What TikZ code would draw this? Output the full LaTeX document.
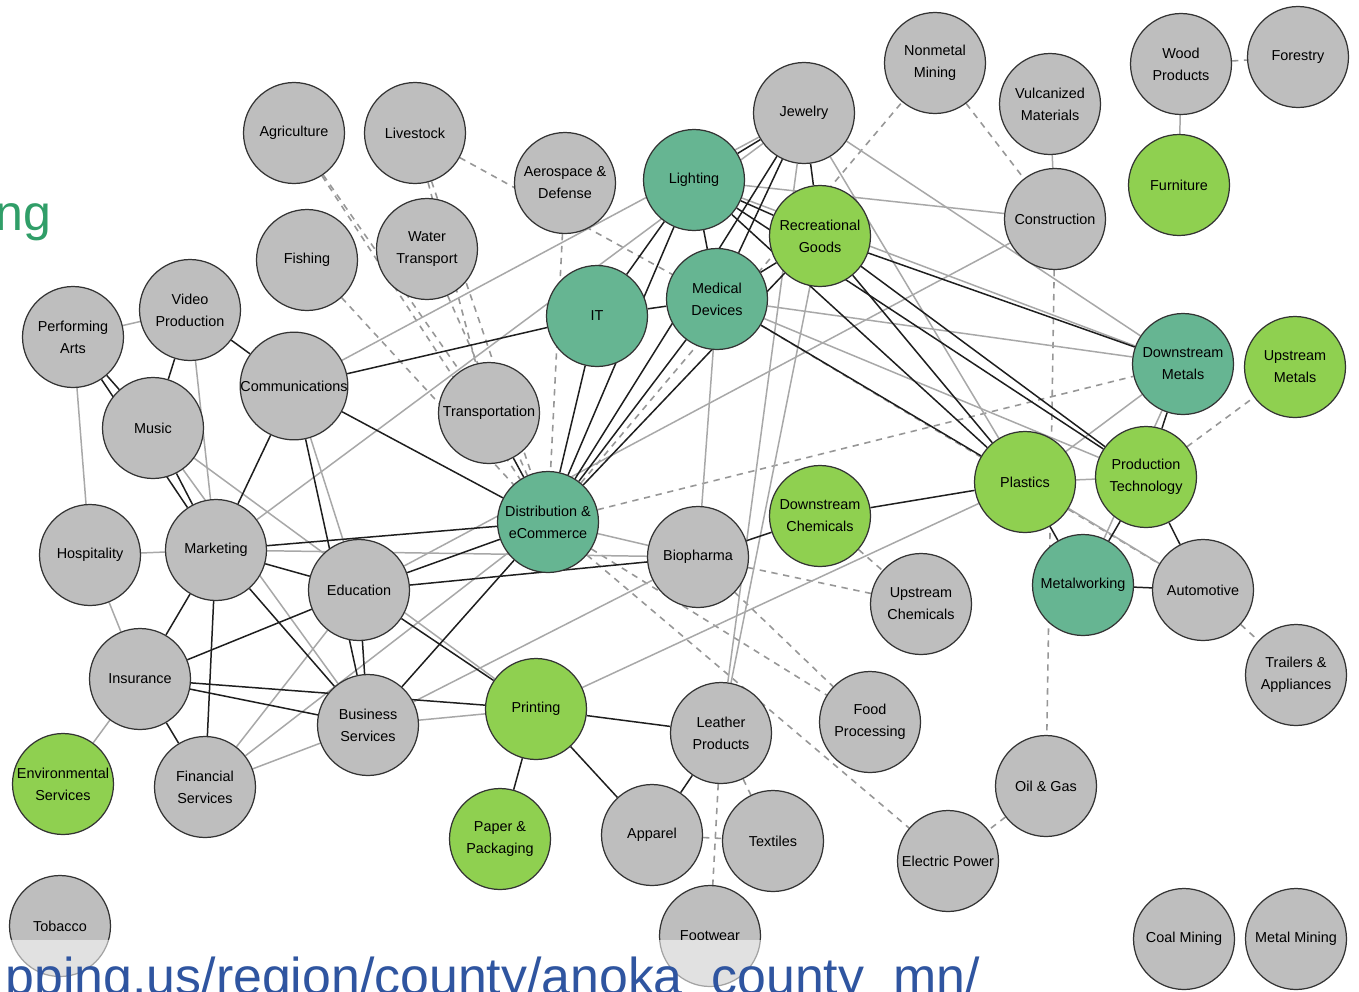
\documentclass[tikz,border=0pt]{standalone}
\usepackage{fontspec}
\setmainfont{Liberation Sans}
\usetikzlibrary{backgrounds}
\definecolor{ngray}{RGB}{190,190,190}
\definecolor{nteal}{RGB}{102,181,146}
\definecolor{ngreen}{RGB}{143,208,80}
\definecolor{eblack}{RGB}{30,30,30}
\definecolor{egray}{RGB}{168,168,168}
\definecolor{urlblue}{RGB}{47,85,160}
\definecolor{nggreen}{RGB}{48,158,104}
\tikzset{
 ind/.style={circle, draw=black!80, line width=0.7pt, minimum size=2.02cm, inner sep=0pt, align=center, font=\fontsize{8.2}{12.5}\selectfont, fill=ngray},
 tealn/.style={ind, fill=nteal},
 greenn/.style={ind, fill=ngreen},
 strong/.style={draw=eblack, line width=0.85pt},
 weak/.style={draw=egray, line width=0.85pt},
 weakdash/.style={draw=egray!90!black, line width=0.9pt, dash pattern=on 3.6pt off 3.2pt}
}
\begin{document}
\begin{tikzpicture}[x=0.02cm,y=-0.02cm]
\useasboundingbox (0,0) rectangle (1359,991);
\clip (0,0) rectangle (1359,991);
% nodes
\node[ind] (agr) at (294,133) {Agriculture};
\node[ind] (liv) at (415,133) {Livestock};
\node[ind] (aero) at (565,183) {Aerospace \&\\Defense};
\node[ind] (fish) at (307,260) {Fishing};
\node[ind] (water) at (427,249) {Water\\Transport};
\node[tealn] (light) at (694,180) {Lighting};
\node[ind] (jew) at (804,113) {Jewelry};
\node[ind] (nonmet) at (935,63) {Nonmetal\\Mining};
\node[ind] (vulc) at (1050,104) {Vulcanized\\Materials};
\node[ind] (wood) at (1181,64) {Wood\\Products};
\node[ind] (forest) at (1298,57) {Forestry};
\node[greenn] (furn) at (1179,185) {Furniture};
\node[ind] (constr) at (1055,219) {Construction};
\node[greenn] (rec) at (820,236) {Recreational\\Goods};
\node[tealn] (med) at (717,299) {Medical\\Devices};
\node[tealn] (it) at (597,316) {IT};
\node[ind] (perf) at (73,337) {Performing\\Arts};
\node[ind] (video) at (190,310) {Video\\Production};
\node[ind] (comm) at (294,386) {Communications};
\node[ind] (music) at (153,428) {Music};
\node[ind] (transp) at (489,413) {Transportation};
\node[tealn] (dmet) at (1183,364) {Downstream\\Metals};
\node[greenn] (umet) at (1295,367) {Upstream\\Metals};
\node[greenn] (plast) at (1025,482) {Plastics};
\node[greenn] (prod) at (1146,477) {Production\\Technology};
\node[tealn] (dist) at (548,522) {Distribution \&\\eCommerce};
\node[greenn] (dchem) at (820,516) {Downstream\\Chemicals};
\node[ind] (bio) at (698,557) {Biopharma};
\node[ind] (hosp) at (90,555) {Hospitality};
\node[ind] (mkt) at (216,550) {Marketing};
\node[ind] (edu) at (359,590) {Education};
\node[ind] (uchem) at (921,604) {Upstream\\Chemicals};
\node[tealn] (metw) at (1083,585) {Metalworking};
\node[ind] (auto) at (1203,590) {Automotive};
\node[ind] (trail) at (1296,675) {Trailers \&\\Appliances};
\node[ind] (ins) at (140,679) {Insurance};
\node[ind] (bus) at (368,725) {Business\\Services};
\node[greenn] (print) at (536,709) {Printing};
\node[ind] (leath) at (721,733) {Leather\\Products};
\node[ind] (food) at (870,722) {Food\\Processing};
\node[greenn] (env) at (63,784) {Environmental\\Services};
\node[ind] (fin) at (205,787) {Financial\\Services};
\node[ind] (oil) at (1046,786) {Oil \& Gas};
\node[greenn] (paper) at (500,839) {Paper \&\\Packaging};
\node[ind] (app) at (652,835) {Apparel};
\node[ind] (text) at (773,841) {Textiles};
\node[ind] (elec) at (948,861) {Electric Power};
\node[ind] (tob) at (60,926) {Tobacco};
\node[ind] (foot) at (710,936) {Footwear};
\node[ind] (coal) at (1184,939) {Coal Mining};
\node[ind] (metmin) at (1296,939) {Metal Mining};
% edges
\begin{scope}[on background layer]
\fill[white] (0,0) rectangle (1359,991);
\foreach \a/\b in {agr/transp, agr/dist, fish/dist, liv/dist, liv/transp, water/dist, liv/med, aero/dist, dist/nonmet, nonmet/constr, constr/oil, oil/elec, dist/dmet, prod/umet, med/auto, bio/uchem, dchem/uchem, dist/food, dist/elec, bio/food, leath/foot, leath/text, app/text, auto/trail, wood/forest}
  \draw[weakdash] (\a) -- (\b);
\foreach \a/\b in {perf/video, perf/hosp, hosp/mkt, hosp/ins, ins/env, video/mkt, music/print, music/bus, comm/edu, comm/jew, mkt/jew, mkt/bio, dist/bio, fin/edu, fin/dist, fin/bus, bus/print, bus/bio, edu/constr, print/plast, bio/med, leath/rec, leath/jew, jew/plast, jew/dmet, light/constr, light/dmet, med/dmet, med/prod, plast/prod, plast/dmet, metw/dmet, plast/auto, vulc/constr, wood/furn}
  \draw[weak] (\a) -- (\b);
\foreach \a/\b in {perf/music, perf/mkt, music/mkt, video/music, video/comm, comm/mkt, comm/bus, comm/it, comm/dist, mkt/dist, mkt/edu, mkt/bus, mkt/ins, mkt/fin, ins/edu, edu/dist, edu/bio, dist/bus, edu/bus, edu/print, ins/bus, ins/print, ins/fin, print/paper, print/app, print/leath, leath/app, it/light, it/med, light/med, dist/it, dist/light, dist/med, dist/rec, dist/jew, transp/dist, light/jew, light/rec, light/plast, light/prod, med/jew, med/rec, jew/rec, med/plast, rec/plast, rec/prod, rec/dmet, dchem/plast, dchem/bio, plast/metw, prod/metw, prod/dmet, prod/auto, metw/auto}
  \draw[strong] (\a) -- (\b);
\end{scope}
% slide fragments
\node[anchor=base east, text=nggreen, font=\fontsize{28.5}{30}\selectfont, inner sep=0pt] (ngtext) at (52,230) {ng};
\fill[white, opacity=0.55] (0,940) rectangle (1000,991);
\node[anchor=base east, text=urlblue, font=\fontsize{29.5}{32}\selectfont, inner sep=0pt] (url) at (980,994) {pping.us/region/county/anoka\_county\_mn/};
\end{tikzpicture}
\end{document}
